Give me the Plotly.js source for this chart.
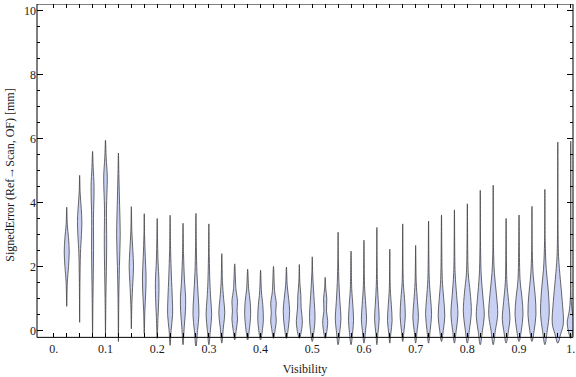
<!DOCTYPE html>
<html>
<head>
<meta charset="utf-8">
<script src="https://cdn.plot.ly/plotly-3.0.1.min.js"></script>
<style>html,body{margin:0;padding:0;background:#fff;}#chart{width:576px;height:377px;}</style>
</head>
<body>
<div id="chart"></div>
<script>
// Violin centres (Visibility bins)
const positions = [0.025,0.05,0.075,0.1,0.125,0.15,0.175,0.2,0.225,0.25,0.275,0.3,0.325,0.35,0.375,0.4,
  0.425,0.45,0.475,0.5,0.525,0.55,0.575,0.6,0.625,0.65,0.675,0.7,0.725,0.75,0.775,0.8,0.825,0.85,0.875,0.9,
  0.925,0.95,0.975,1.0];

// Density profiles: [SignedError value (mm), relative density (half width)]
const profiles = [
  [[0.75,0],[1.5,0.6],[2.0,1.8],[2.45,2.5],[2.9,1.8],[3.3,0.6],[3.85,0]],
  [[0.25,0],[1.5,0.3],[2.4,0.8],[3.0,1.8],[3.4,2.2],[3.8,1.6],[4.3,0.5],[4.85,0]],
  [[-0.1,0],[1.0,0.4],[2.5,1.0],[3.5,0.9],[4.5,1.5],[5.1,0.6],[5.6,0]],
  [[-0.1,0],[1.0,0.4],[2.7,1.2],[3.8,1.0],[4.8,1.8],[5.4,0.7],[5.95,0]],
  [[-0.35,0],[1.0,0.4],[2.0,1.0],[3.0,1.8],[3.9,1.2],[4.8,0.5],[5.55,0]],
  [[0.05,0],[0.8,0.5],[1.5,1.5],[2.0,2.2],[2.5,1.5],[3.1,0.5],[3.87,0]],
  [[-0.1,0],[0.6,0.6],[1.2,1.5],[1.7,1.8],[2.3,1.0],[3.0,0.3],[3.65,0]],
  [[-0.25,0],[0.4,0.8],[1.0,1.6],[1.5,1.8],[2.2,0.8],[2.9,0.3],[3.5,0]],
  [[-0.47,0],[0.0,1.0],[0.5,2.5],[1.0,2.2],[1.7,1.3],[2.5,0.5],[3.6,0]],
  [[-0.45,0],[0.1,1.2],[0.6,2.4],[1.0,2.6],[1.6,1.4],[2.4,0.5],[3.35,0]],
  [[-0.52,0],[0.0,1.6],[0.5,3.0],[1.1,2.2],[1.8,1.0],[2.6,0.4],[3.66,0]],
  [[-0.45,0],[0.0,1.5],[0.5,2.8],[1.0,1.8],[1.5,1.0],[2.3,0.4],[3.33,0]],
  [[-0.4,0],[0.1,1.6],[0.55,3.0],[1.0,1.8],[1.5,0.7],[2.4,0]],
  [[-0.3,0],[0.0,1.5],[0.35,2.8],[0.6,2.3],[0.9,2.8],[1.3,1.2],[2.08,0]],
  [[-0.3,0],[0.0,1.6],[0.5,3.0],[0.9,2.5],[1.3,1.0],[1.91,0]],
  [[-0.3,0],[0.05,2.0],[0.35,2.8],[0.8,2.2],[1.2,0.9],[1.88,0]],
  [[-0.25,0],[0.05,1.8],[0.3,2.8],[0.55,2.2],[0.85,2.8],[1.2,1.2],[2.0,0]],
  [[-0.25,0],[0.1,2.0],[0.6,3.2],[1.0,2.2],[1.4,0.8],[1.98,0]],
  [[-0.25,0],[0.05,2.4],[0.3,3.0],[0.7,1.8],[1.1,1.5],[1.5,0.5],[2.06,0]],
  [[-0.35,0],[0.0,1.8],[0.4,2.8],[0.9,2.0],[1.3,1.2],[1.8,0.4],[2.3,0]],
  [[-0.25,0],[0.05,2.0],[0.3,2.5],[0.6,1.3],[1.0,1.6],[1.3,0.6],[1.66,0]],
  [[-0.45,0],[0.0,1.8],[0.35,2.8],[0.9,1.8],[1.5,0.8],[2.2,0.3],[3.07,0]],
  [[-0.45,0],[0.0,1.8],[0.3,2.5],[0.8,1.8],[1.3,0.7],[2.48,0]],
  [[-0.4,0],[0.0,1.6],[0.35,2.6],[0.8,1.8],[1.4,0.6],[2.82,0]],
  [[-0.45,0],[-0.1,1.0],[0.35,2.3],[0.8,1.6],[1.4,0.6],[2.2,0.2],[3.22,0]],
  [[-0.4,0],[-0.1,1.0],[0.3,2.3],[0.8,1.5],[1.3,0.5],[2.54,0]],
  [[-0.35,0],[0.0,1.3],[0.45,2.6],[1.0,1.8],[1.5,0.6],[3.33,0]],
  [[-0.4,0],[0.0,1.5],[0.4,2.8],[0.9,1.8],[1.5,0.6],[2.66,0]],
  [[-0.4,0],[0.0,1.6],[0.5,3.0],[1.0,2.0],[1.6,0.7],[3.42,0]],
  [[-0.35,0],[0.0,1.8],[0.45,3.3],[1.0,2.2],[1.6,0.8],[3.61,0]],
  [[-0.4,0],[0.0,1.8],[0.5,3.5],[1.1,2.2],[1.8,0.7],[3.77,0]],
  [[-0.4,0],[0.0,2.0],[0.6,4.0],[1.2,2.8],[1.8,0.9],[3.96,0]],
  [[-0.45,0],[0.0,2.2],[0.45,4.0],[1.0,2.8],[1.7,1.0],[2.6,0.3],[4.38,0]],
  [[-0.45,0],[0.0,2.2],[0.5,4.5],[1.1,3.3],[1.8,1.2],[2.6,0.3],[4.54,0]],
  [[-0.4,0],[0.0,2.4],[0.35,3.8],[0.9,2.5],[1.5,0.8],[3.5,0]],
  [[-0.35,0],[0.0,2.3],[0.5,4.0],[1.0,3.0],[1.6,1.0],[3.61,0]],
  [[-0.35,0],[0.0,2.2],[0.5,4.0],[1.1,3.2],[1.7,1.3],[2.5,0.3],[3.88,0]],
  [[-0.45,0],[0.0,2.4],[0.5,4.3],[1.2,3.5],[1.9,1.4],[2.8,0.3],[4.41,0]],
  [[-0.4,0],[-0.1,3.0],[0.2,5.5],[0.9,4.5],[1.6,2.5],[2.3,0.8],[3.5,0.2],[5.89,0]],
  [[-0.25,0],[0.0,2.5],[0.25,3.5],[0.6,1.5],[1.0,0.4],[2.0,0.1],[5.92,0]]
];

const xTickVals = [0,0.025,0.05,0.075,0.1,0.125,0.15,0.175,0.2,0.225,0.25,0.275,0.3,0.325,0.35,0.375,0.4,
  0.425,0.45,0.475,0.5,0.525,0.55,0.575,0.6,0.625,0.65,0.675,0.7,0.725,0.75,0.775,0.8,0.825,0.85,0.875,0.9,
  0.925,0.95,0.975,1.0];
const xTickText = ['0.','','','','0.1','','','','0.2','','','','0.3','','','','0.4','','','','0.5','','','',
  '0.6','','','','0.7','','','','0.8','','','','0.9','','','','1.'];
const yTickVals = [0,2,4,6,8,10];
const yTickText = ['0','2','4','6','8','10'];

const X_RANGE = [-0.0325, 1.0044];
const Y_RANGE = [-0.49, 10.21];
const FRAME_BOTTOM = -0.22;
const PX_TO_X = 1 / 517;   // half-width units (px) to x data units

const FILL = 'rgb(200,208,243)';
const EDGE = 'rgba(60,60,60,0.85)';
const FONT = {family: 'Liberation Serif, Times New Roman, serif', size: 12, color: '#1a1a1a'};

const traces = positions.map((pos, i) => {
  const prof = profiles[i];
  const xs = [], ys = [];
  prof.forEach(([v, w]) => { xs.push(pos + w * PX_TO_X); ys.push(v); });
  for (let k = prof.length - 2; k >= 0; k--) {
    xs.push(pos - prof[k][1] * PX_TO_X); ys.push(prof[k][0]);
  }
  return {
    type: 'scatter', mode: 'lines', x: xs, y: ys, fill: 'toself', fillcolor: FILL,
    line: {color: EDGE, width: 0.9, shape: 'spline', smoothing: 1},
    hoverinfo: 'skip', showlegend: false
  };
});
// dummy trace so the top (mirror) axis is drawn
traces.push({type: 'scatter', mode: 'markers', x: [0.5], y: [5], xaxis: 'x2',
  marker: {opacity: 0}, hoverinfo: 'skip', showlegend: false});

const pos0 = (FRAME_BOTTOM - Y_RANGE[0]) / (Y_RANGE[1] - Y_RANGE[0]);

const layout = {
  width: 576, height: 377,
  margin: {l: 37, r: 3, t: 4, b: 31},
  paper_bgcolor: '#fff', plot_bgcolor: '#fff',
  showlegend: false,
  font: FONT,
  xaxis: {
    range: X_RANGE, anchor: 'free', position: pos0, automargin: false,
    showgrid: false, zeroline: false, showline: false,
    tickmode: 'array', tickvals: xTickVals, ticktext: xTickText,
    ticks: 'inside', ticklen: 4, tickwidth: 1, tickcolor: '#000',
    tickfont: FONT, ticklabelstandoff: 3,
    title: {text: 'Visibility', font: FONT, standoff: 9}
  },
  xaxis2: {
    range: X_RANGE, overlaying: 'x', side: 'top', anchor: 'y', automargin: false,
    showgrid: false, zeroline: false, showline: false,
    tickmode: 'array', tickvals: xTickVals, ticks: 'inside', ticklen: 4, tickwidth: 1,
    tickcolor: '#000', showticklabels: false
  },
  yaxis: {
    range: Y_RANGE, anchor: 'x', automargin: false,
    showgrid: false, zeroline: false, showline: false,
    tickmode: 'array', tickvals: yTickVals, ticktext: yTickText,
    ticks: 'inside', ticklen: 6, tickwidth: 1, tickcolor: '#000', mirror: 'ticks',
    minor: {dtick: 0.5, tick0: 0, ticks: 'inside', ticklen: 3, tickwidth: 1, tickcolor: '#000', showgrid: false},
    tickfont: FONT,
    title: {text: 'SignedError (Ref→Scan, OF) [mm]', font: FONT, standoff: 6}
  },
  shapes: [{
    type: 'rect', xref: 'paper', yref: 'y', x0: 0, x1: 1, y0: FRAME_BOTTOM, y1: Y_RANGE[1],
    line: {color: '#000', width: 1}, fillcolor: 'rgba(0,0,0,0)', layer: 'above'
  }]
};

Plotly.newPlot('chart', traces, layout, {displayModeBar: false, staticPlot: true});
</script>
</body>
</html>
